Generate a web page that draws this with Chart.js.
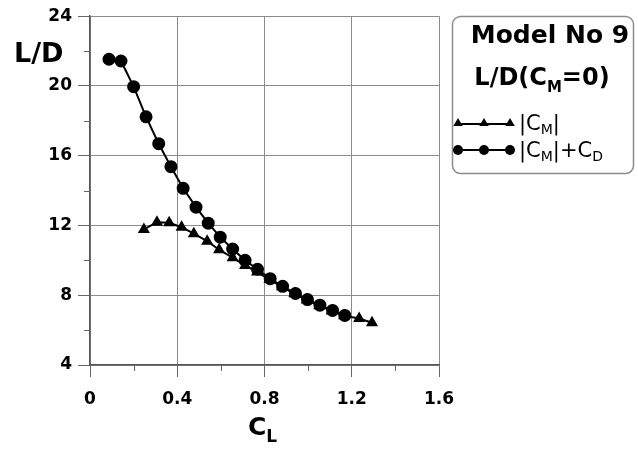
<!DOCTYPE html>
<html>
<head>
<meta charset="utf-8">
<title>Model No 9 L/D</title>
<script src="https://cdn.jsdelivr.net/npm/chart.js@4/dist/chart.umd.min.js"></script>
<style>
  html, body { margin: 0; padding: 0; background: #fff; }
  #wrap { width: 638px; height: 450px; }
</style>
</head>
<body>
<div id="wrap"><canvas id="ld"></canvas></div>
<script>
// L/D against C_L for the two moment criteria

const xTicks = [0, 0.4, 0.8, 1.2, 1.6];
const yTicks = [4, 8, 12, 16, 20, 24];
const xMinor = [0.2, 0.6, 1.0, 1.4];
const yMinor = [6, 10, 14, 18, 22];

// |CM|
const clCm = [0.247, 0.307, 0.363, 0.420, 0.476, 0.537, 0.592, 0.654, 0.711, 0.766,
              0.823, 0.880, 0.937, 0.994, 1.051, 1.108, 1.165, 1.234, 1.293];
const ldCm = [11.77, 12.19, 12.15, 11.90, 11.53, 11.10, 10.61, 10.15, 9.71, 9.33,
              8.90, 8.48, 8.08, 7.72, 7.40, 7.10, 6.82, 6.67, 6.42];

// |CM|+CD
const clCmCd = [0.087, 0.142, 0.200, 0.257, 0.315, 0.371, 0.427, 0.486, 0.542, 0.597,
                0.654, 0.711, 0.768, 0.826, 0.883, 0.942, 0.997, 1.054, 1.112, 1.168];
const ldCmCd = [21.53, 21.43, 19.96, 18.23, 16.69, 15.37, 14.13, 13.05, 12.13, 11.33,
                10.65, 10.00, 9.49, 8.95, 8.51, 8.10, 7.75, 7.43, 7.13, 6.84];

const FONT = "'DejaVu Sans', 'Liberation Sans', sans-serif";

function pts(xs, ys) {
  return xs.map((x, i) => ({ x: x, y: ys[i] }));
}

// draws a run of text pieces (for subscripts), left to right
function drawRuns(ctx, x, y, runs, align) {
  let total = 0;
  runs.forEach(r => {
    ctx.font = (r.bold ? 'bold ' : '') + r.size + 'px ' + FONT;
    r.w = ctx.measureText(r.t).width;
    total += r.w;
  });
  let cx = align === 'center' ? x - total / 2 : x;
  ctx.textBaseline = 'alphabetic';
  ctx.textAlign = 'left';
  runs.forEach(r => {
    ctx.font = (r.bold ? 'bold ' : '') + r.size + 'px ' + FONT;
    ctx.fillText(r.t, cx, y + (r.dy || 0));
    cx += r.w;
  });
}

function triangle(ctx, x, y, r) {
  ctx.beginPath();
  ctx.moveTo(x, y - r);
  ctx.lineTo(x + r * 0.95, y + r * 0.6);
  ctx.lineTo(x - r * 0.95, y + r * 0.6);
  ctx.closePath();
  ctx.fill();
}

function dot(ctx, x, y, r) {
  ctx.beginPath();
  ctx.arc(x, y, r, 0, Math.PI * 2);
  ctx.fill();
}

const decorations = {
  id: 'decorations',
  afterDraw(chart) {
    const ctx = chart.ctx;
    const xs = chart.scales.x, ys = chart.scales.y;
    const a = chart.chartArea;
    ctx.save();

    // minor ticks
    ctx.strokeStyle = '#666';
    ctx.lineWidth = 1;
    ctx.beginPath();
    yMinor.forEach(v => {
      const py = Math.round(ys.getPixelForValue(v)) + 0.5;
      ctx.moveTo(a.left - 6, py);
      ctx.lineTo(a.left, py);
    });
    xMinor.forEach(v => {
      const px = Math.round(xs.getPixelForValue(v)) + 0.5;
      ctx.moveTo(px, a.bottom);
      ctx.lineTo(px, a.bottom + 6);
    });
    ctx.stroke();

    // axis titles
    ctx.fillStyle = '#000';
    drawRuns(ctx, 14, 62, [{ t: 'L/D', size: 27, bold: true }], 'left');
    drawRuns(ctx, 248, 435, [
      { t: 'C', size: 25, bold: true },
      { t: 'L', size: 17, bold: true, dy: 7 }
    ], 'left');

    // legend box
    ctx.strokeStyle = '#8c8c8c';
    ctx.lineWidth = 1.5;
    ctx.beginPath();
    ctx.roundRect(452.5, 16.5, 181, 157, 8);
    ctx.stroke();

    drawRuns(ctx, 550, 43, [{ t: 'Model No 9', size: 25, bold: true }], 'center');
    drawRuns(ctx, 542, 85, [
      { t: 'L/D(C', size: 24, bold: true },
      { t: 'M', size: 15, bold: true, dy: 7 },
      { t: '=0)', size: 24, bold: true }
    ], 'center');

    ctx.strokeStyle = '#000';
    ctx.lineWidth = 2;
    ctx.beginPath();
    ctx.moveTo(458, 124); ctx.lineTo(510, 124);
    ctx.moveTo(458, 150); ctx.lineTo(510, 150);
    ctx.stroke();
    [458, 484, 510].forEach(x => triangle(ctx, x, 123, 5));
    [458, 484, 510].forEach(x => dot(ctx, x, 150, 5));

    drawRuns(ctx, 519, 130, [
      { t: '|C', size: 21 },
      { t: 'M', size: 14, dy: 4 },
      { t: '|', size: 21 }
    ], 'left');
    drawRuns(ctx, 519, 157, [
      { t: '|C', size: 21 },
      { t: 'M', size: 14, dy: 4 },
      { t: '|+C', size: 21 },
      { t: 'D', size: 14, dy: 4 }
    ], 'left');

    ctx.restore();
  }
};

new Chart(document.getElementById('ld'), {
  type: 'scatter',
  data: {
    datasets: [{
      label: '|CM|',
      data: pts(clCm, ldCm),
      showLine: true,
      borderColor: '#000',
      backgroundColor: '#000',
      borderWidth: 2,
      pointStyle: 'triangle',
      pointRadius: 5,
      tension: 0
    }, {
      label: '|CM|+CD',
      data: pts(clCmCd, ldCmCd),
      showLine: true,
      borderColor: '#000',
      backgroundColor: '#000',
      borderWidth: 2,
      pointStyle: 'circle',
      pointRadius: 5.5,
      tension: 0
    }]
  },
  options: {
    animation: false,
    responsive: true,
    maintainAspectRatio: false,
    layout: { padding: { top: 15, right: 199, left: 0, bottom: 0 } },
    plugins: { legend: { display: false }, tooltip: { enabled: false } },
    scales: {
      x: {
        type: 'linear',
        min: 0, max: 1.6,
        afterBuildTicks: s => { s.ticks = xTicks.map(v => ({ value: v })); },
        afterFit: s => { s.height = 85; },
        ticks: {
          color: '#000',
          padding: 12,
          maxRotation: 0,
          font: { family: FONT, size: 17, weight: 'bold' },
          callback: v => (v === 0 ? '0' : v.toFixed(1))
        },
        grid: { color: '#8c8c8c', lineWidth: 1, tickLength: 12, tickColor: '#666' },
        border: { color: '#555', width: 1.5 }
      },
      y: {
        type: 'linear',
        min: 4, max: 24,
        afterBuildTicks: s => { s.ticks = yTicks.map(v => ({ value: v })); },
        afterFit: s => { s.width = 90; },
        ticks: {
          color: '#000',
          padding: 6,
          font: { family: FONT, size: 17, weight: 'bold' }
        },
        grid: { color: '#8c8c8c', lineWidth: 1, tickLength: 12, tickColor: '#666' },
        border: { color: '#555', width: 1.5 }
      }
    }
  },
  plugins: [decorations]
});
</script>
</body>
</html>
